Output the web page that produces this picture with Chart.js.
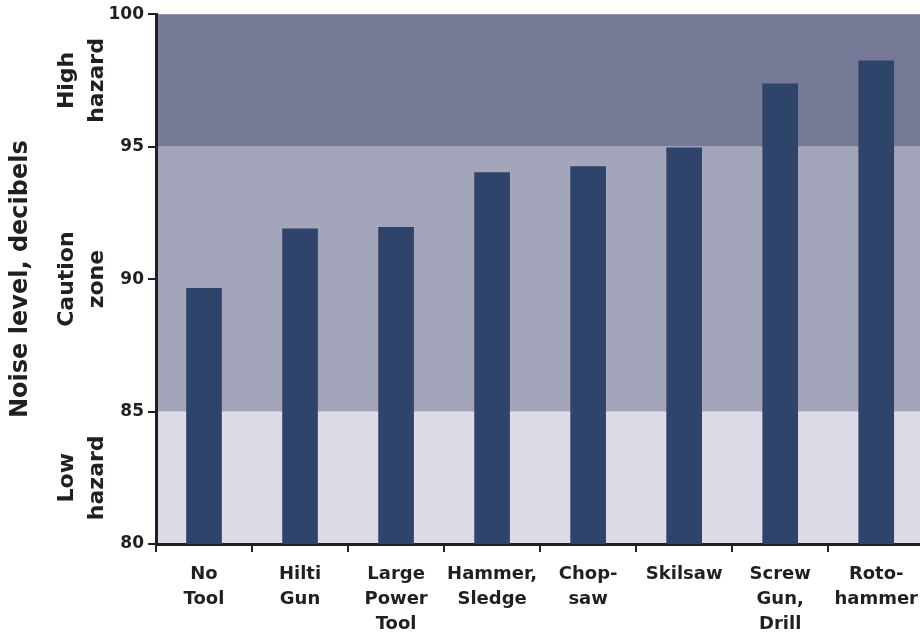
<!DOCTYPE html>
<html>
<head>
<meta charset="utf-8">
<script src="https://cdn.jsdelivr.net/npm/chart.js@4/dist/chart.umd.min.js"></script>
<style>
  html, body { margin: 0; padding: 0; background: #ffffff; overflow: hidden; }
  #wrap { width: 920px; height: 635px; overflow: hidden; }
</style>
</head>
<body>
<div id="wrap"><canvas id="c" width="928" height="635"></canvas></div>
<script>
// ---- data ----
const categories = [
  ["No", "Tool"],
  ["Hilti", "Gun"],
  ["Large", "Power", "Tool"],
  ["Hammer,", "Sledge"],
  ["Chop-", "saw"],
  ["Skilsaw"],
  ["Screw", "Gun,", "Drill"],
  ["Roto-", "hammer"]
];
const noiseLevels = [89.65, 91.9, 91.95, 94.02, 94.25, 94.96, 97.37, 98.24];
const yMin = 80;
const yMax = 100;
const yStep = 5;
const zoneBounds = [80, 85, 95, 100];
const zoneLabels = [["Low", "hazard"], ["Caution", "zone"], ["High", "hazard"]];
const axisTitle = "Noise level, decibels";

// ---- styles ----
const zoneColors = ["#dcdce6", "#a3a5bb", "#767a97"];
const barColor = "#2e446b";
const inkColor = "#231f20";
const FONT = "'DejaVu Sans', sans-serif";

const zonePlugin = {
  id: "zones",
  beforeDraw(chart) {
    const { ctx, chartArea, scales } = chart;
    const y = scales.y;
    ctx.save();
    for (let i = 0; i < zoneLabels.length; i++) {
      const top = y.getPixelForValue(zoneBounds[i + 1]);
      const bot = y.getPixelForValue(zoneBounds[i]);
      ctx.fillStyle = zoneColors[i];
      ctx.fillRect(chartArea.left, top, chartArea.right - chartArea.left + 10, bot - top);
    }
    // zone labels, rotated
    ctx.fillStyle = inkColor;
    ctx.font = "bold 22px " + FONT;
    ctx.textAlign = "center";
    ctx.textBaseline = "alphabetic";
    const baselines = [73, 103];
    for (let i = 0; i < zoneLabels.length; i++) {
      const top = y.getPixelForValue(zoneBounds[i + 1]);
      const bot = y.getPixelForValue(zoneBounds[i]);
      const cy = (top + bot) / 2;
      zoneLabels[i].forEach((line, j) => {
        ctx.save();
        ctx.translate(baselines[j], cy);
        ctx.rotate(-Math.PI / 2);
        ctx.fillText(line, 0, 0);
        ctx.restore();
      });
    }
    ctx.restore();
  }
};

new Chart(document.getElementById("c"), {
  type: "bar",
  data: {
    labels: categories,
    datasets: [{
      data: noiseLevels,
      backgroundColor: barColor,
      borderWidth: 0,
      barThickness: 35
    }]
  },
  options: {
    responsive: false,
    animation: false,
    devicePixelRatio: 1,
    layout: { padding: { left: 0, right: 0, top: 13, bottom: 0 } },
    plugins: {
      legend: { display: false },
      tooltip: { enabled: false },
      title: { display: false }
    },
    scales: {
      x: {
        offset: true,
        grid: {
          display: true,
          offset: true,
          drawOnChartArea: false,
          drawTicks: true,
          tickLength: 8,
          color: inkColor,
          lineWidth: 2
        },
        border: { display: true, color: inkColor, width: 3 },
        ticks: {
          color: inkColor,
          font: { family: FONT, size: 18, weight: "bold", lineHeight: 1.39 },
          padding: 10,
          maxRotation: 0,
          minRotation: 0,
          autoSkip: false
        },
        afterFit(scale) { scale.height = 91; }
      },
      y: {
        min: yMin,
        max: yMax,
        grid: {
          display: true,
          drawOnChartArea: false,
          drawTicks: true,
          tickLength: 8,
          color: inkColor,
          lineWidth: 2
        },
        border: { display: true, color: inkColor, width: 3 },
        ticks: {
          stepSize: yStep,
          color: inkColor,
          font: { family: FONT, size: 17, weight: "bold" },
          padding: 4
        },
        title: {
          display: true,
          text: axisTitle,
          color: inkColor,
          font: { family: FONT, size: 24, weight: "bold" },
          padding: { top: 6, bottom: 0 }
        },
        afterFit(scale) { scale.width = 156; }
      }
    }
  },
  plugins: [zonePlugin]
});
</script>
</body>
</html>
